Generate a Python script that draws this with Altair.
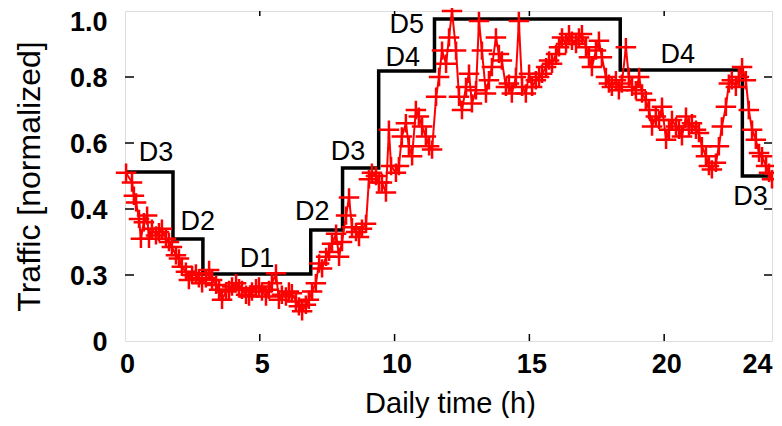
import altair as alt
import pandas as pd

# ---- data ----
step_h = [0.0, 1.78, 2.89, 6.89, 8.07, 9.41, 11.48, 18.37, 22.9, 24.0]
step_v = [0.512, 0.309, 0.203, 0.336, 0.524, 0.818, 0.976, 0.821, 0.50, 0.50]

label_text = ["D3", "D2", "D1", "D2", "D3", "D4", "D5", "D4", "D3"]
label_h = [1.15, 2.7, 4.9, 6.95, 8.27, 10.3, 10.45, 20.5, 23.2]
label_v = [0.57, 0.36, 0.25, 0.39, 0.573, 0.857, 0.958, 0.867, 0.436]

traffic_h = [0.04, 0.26, 0.33, 0.41, 0.52, 0.59, 0.70, 0.82, 0.89, 1.00, 1.15, 1.26, 1.37, 1.52, 1.63, 1.74, 1.89, 2.00,
             2.11, 2.26, 2.37, 2.49, 2.63, 2.74, 2.86, 3.00, 3.12, 3.23, 3.38, 3.49, 3.60, 3.75, 3.86, 3.97, 4.12, 4.23,
             4.34, 4.49, 4.60, 4.71, 4.86, 4.97, 5.08, 5.23, 5.34, 5.45, 5.60, 5.71, 5.82, 5.97, 6.08, 6.19, 6.34, 6.45,
             6.57, 6.71, 6.82, 6.94, 7.08, 7.20, 7.31, 7.46, 7.57, 7.68, 7.83, 7.94, 8.05, 8.20, 8.31, 8.42, 8.57, 8.68,
             8.79, 8.94, 9.05, 9.16, 9.31, 9.42, 9.53, 9.68, 9.79, 9.87, 10.05, 10.16, 10.27, 10.42, 10.53, 10.65, 10.79,
             10.90, 11.02, 11.16, 11.28, 11.39, 11.54, 11.65, 11.76, 11.91, 12.02, 12.13, 12.28, 12.39, 12.50, 12.65,
             12.76, 12.87, 13.02, 13.13, 13.24, 13.39, 13.50, 13.61, 13.76, 13.87, 13.98, 14.13, 14.24, 14.35, 14.50,
             14.61, 14.73, 14.87, 14.99, 15.10, 15.24, 15.36, 15.47, 15.62, 15.73, 15.84, 15.99, 16.10, 16.21, 16.36,
             16.47, 16.58, 16.73, 16.84, 16.95, 17.10, 17.21, 17.32, 17.47, 17.58, 17.69, 17.84, 17.95, 18.06, 18.21,
             18.32, 18.43, 18.58, 18.69, 18.81, 18.95, 19.07, 19.18, 19.32, 19.44, 19.55, 19.69, 19.81, 19.92, 20.07,
             20.18, 20.29, 20.44, 20.55, 20.66, 20.81, 20.92, 21.03, 21.18, 21.29, 21.40, 21.55, 21.66, 21.77, 21.92,
             22.03, 22.14, 22.29, 22.40, 22.51, 22.66, 22.77, 22.89, 23.03, 23.14, 23.26, 23.40, 23.52, 23.63, 23.78,
             23.89, 24.00]
traffic_v = [0.51, 0.48, 0.44, 0.42, 0.37, 0.31, 0.36, 0.38, 0.31, 0.34, 0.32, 0.33, 0.34, 0.31, 0.30, 0.285, 0.26, 0.25,
             0.225, 0.21, 0.185, 0.20, 0.205, 0.19, 0.175, 0.19, 0.215, 0.185, 0.17, 0.155, 0.125, 0.15, 0.155, 0.165,
             0.175, 0.16, 0.155, 0.14, 0.135, 0.15, 0.16, 0.165, 0.15, 0.135, 0.155, 0.175, 0.205, 0.125, 0.14, 0.135,
             0.15, 0.145, 0.12, 0.105, 0.09, 0.11, 0.125, 0.15, 0.175, 0.235, 0.22, 0.255, 0.27, 0.295, 0.325, 0.255,
             0.30, 0.38, 0.435, 0.345, 0.33, 0.315, 0.34, 0.355, 0.49, 0.51, 0.50, 0.48, 0.48, 0.45, 0.64, 0.53, 0.51,
             0.53, 0.62, 0.66, 0.59, 0.56, 0.70, 0.68, 0.65, 0.62, 0.59, 0.58, 0.74, 0.80, 0.88, 0.84, 0.92, 1.00, 0.88,
             0.74, 0.70, 0.77, 0.81, 0.72, 0.76, 0.97, 0.88, 0.75, 0.79, 0.83, 0.92, 0.87, 0.85, 0.77, 0.78, 0.75, 0.80,
             0.97, 0.77, 0.75, 0.81, 0.77, 0.79, 0.80, 0.81, 0.83, 0.85, 0.84, 0.87, 0.89, 0.92, 0.90, 0.93, 0.91, 0.90,
             0.92, 0.93, 0.89, 0.86, 0.83, 0.88, 0.91, 0.86, 0.80, 0.78, 0.77, 0.79, 0.76, 0.78, 0.89, 0.80, 0.77, 0.76,
             0.80, 0.75, 0.73, 0.70, 0.65, 0.68, 0.67, 0.71, 0.61, 0.64, 0.67, 0.65, 0.64, 0.62, 0.68, 0.65, 0.66, 0.64,
             0.63, 0.59, 0.56, 0.53, 0.52, 0.54, 0.59, 0.65, 0.71, 0.78, 0.79, 0.77, 0.80, 0.83, 0.79, 0.70, 0.64, 0.61,
             0.57, 0.56, 0.53, 0.51, 0.49]

x_ticks = [0, 5, 10, 15, 20, 24]
x_inner_ticks = [5, 10, 15, 20]
y_ticks = [0.0, 0.2, 0.4, 0.6, 0.8, 1.0]
y_tick_labels = ["0", "0.3", "0.4", "0.6", "0.8", "1.0"]
y_inner_ticks = [0.2, 0.4, 0.6, 0.8]

W, H = 647, 330
FONT = "Liberation Sans"

steps = pd.DataFrame({"h": step_h, "v": step_v})
traffic = pd.DataFrame({"h": traffic_h, "v": traffic_v})
labels = pd.DataFrame({"h": label_h, "v": label_v, "t": label_text})
xt = pd.DataFrame({"h": x_inner_ticks})
yt = pd.DataFrame({"v": y_inner_ticks})

ylabel_expr = " : ".join(
    [f"abs(datum.value - {v}) < 0.001 ? '{l}'" for v, l in zip(y_ticks, y_tick_labels)]
) + " : ''"

xscale = alt.Scale(domain=[0, 24], nice=False, zero=False)
yscale = alt.Scale(domain=[0, 1], nice=False, zero=False)

xaxis = alt.Axis(values=x_ticks, grid=False, domain=False, ticks=False, tickSize=0,
                 labelFont=FONT, labelFontWeight="bold", labelFontSize=27, labelColor="black",
                 labelPadding=10, labelBaseline="top", labelFlush=False,
                 labelOffset={"condition": {"test": "datum.value == 24", "value": -15}, "value": 2},
                 titleFont=FONT, titleFontSize=29, titleFontWeight="normal", titleColor="black",
                 titleX=325, titleY=71, titleBaseline="alphabetic", titleAlign="center")
yaxis = alt.Axis(values=y_ticks, labelExpr=ylabel_expr, grid=False, domain=False, ticks=False, tickSize=0,
                 labelFont=FONT, labelFontWeight="bold", labelFontSize=27, labelColor="black",
                 labelPadding=18, labelFlush=False,
                 labelOffset={"condition": {"test": "datum.value == 1", "value": 11}, "value": 1},
                 titleFont=FONT, titleFontSize=32, titleFontWeight="normal", titleColor="black",
                 titleX=-96, titleY=H / 2, titleAngle=270, titleAlign="center", titleBaseline="middle")


def X(f="h"):
    return alt.X(f"{f}:Q", scale=xscale, axis=xaxis, title="Daily time (h)")


def Y(f="v"):
    return alt.Y(f"{f}:Q", scale=yscale, axis=yaxis, title="Traffic [normalized]")


step_layer = alt.Chart(steps).mark_line(interpolate="step-after", color="black", strokeWidth=3.5).encode(
    x=X(), y=Y())

red_line = alt.Chart(traffic).mark_line(color="#ff0000", strokeWidth=2).encode(x=X(), y=Y())
red_pts = alt.Chart(traffic).mark_point(
    shape="M-1,0L1,0M0,-0.9L0,0.9", size=420, filled=False, stroke="#ff0000", strokeWidth=2.5, opacity=1
).encode(x=X(), y=Y())

text_layer = alt.Chart(labels).mark_text(font=FONT, fontSize=27, color="black", align="center",
                                         baseline="middle").encode(x=X(), y=Y(), text="t:N")

left_ticks = alt.Chart(yt).mark_rule(color="black", strokeWidth=1.5).encode(
    y=Y(), x=alt.value(0), x2=alt.value(9))
right_ticks = alt.Chart(yt).mark_rule(color="black", strokeWidth=1.5).encode(
    y=Y(), x=alt.value(W - 8), x2=alt.value(W))
bottom_ticks = alt.Chart(xt).mark_rule(color="black", strokeWidth=1.5).encode(
    x=X(), y=alt.value(H), y2=alt.value(H - 7))
top_ticks = alt.Chart(xt).mark_rule(color="black", strokeWidth=1.5).encode(
    x=X(), y=alt.value(0), y2=alt.value(5))

chart = alt.layer(
    left_ticks, right_ticks, bottom_ticks, top_ticks, step_layer, red_line, red_pts, text_layer
).properties(
    width=W, height=H, autosize="none",
    padding={"left": 117, "top": 3, "right": 2, "bottom": 77}
).configure_view(stroke="black", strokeWidth=2).configure(background="white")

chart.save("out.html", embed_options={"renderer": "svg", "actions": False})
